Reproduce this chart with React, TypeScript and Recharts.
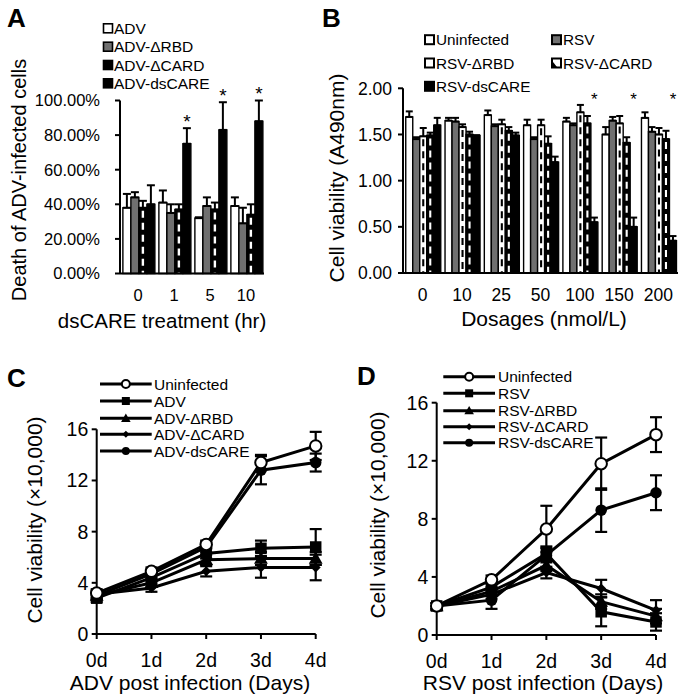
import React from 'react';
import { BarChart, Bar, XAxis, YAxis, ErrorBar, LabelList, LineChart, Line } from 'recharts';

const FONT = '"Liberation Sans", Arial, Helvetica, sans-serif';
const GRAY = '#707070';

// ---------- Panel A ----------
const hoursA = ['0', '1', '5', '10'];
const namesA = ['ADV', 'ADV-\u0394RBD', 'ADV-\u0394CARD', 'ADV-dsCARE'];
const advA = [38, 41, 32, 39];
const advErrA = [8, 7, 0.5, 5];
const rbdA = [44, 35, 39, 29];
const rbdErrA = [3, 5, 5, 9];
const cardA = [38, 37, 37, 34];
const cardErrA = [4, 3, 4, 6];
const dsA = [40, 75, 83, 88];
const dsErrA = [11, 9, 16, 12];
const sigA = [0, 1, 1, 1];
const ticksA = [0, 20, 40, 60, 80, 100];

// ---------- Panel B ----------
const dosesB = ['0', '10', '25', '50', '100', '150', '200'];
const namesB = ['Uninfected', 'RSV', 'RSV-\u0394RBD', 'RSV-\u0394CARD', 'RSV-dsCARE'];
const uninB = [1.69, 1.65, 1.71, 1.6, 1.64, 1.5, 1.68];
const uninErrB = [0.06, 0.03, 0.05, 0.06, 0.04, 0.08, 0.06];
const rsvB = [1.45, 1.64, 1.59, 1.45, 1.6, 1.65, 1.53];
const rsvErrB = [0.02, 0.04, 0.02, 0.02, 0.02, 0.04, 0.05];
const rbdB = [1.48, 1.58, 1.61, 1.6, 1.74, 1.62, 1.5];
const rbdErrB = [0.09, 0.03, 0.05, 0.06, 0.08, 0.08, 0.07];
const cardB = [1.49, 1.5, 1.54, 1.4, 1.62, 1.41, 1.45];
const cardErrB = [0.03, 0.03, 0.04, 0.08, 0.08, 0.06, 0.09];
const dsB = [1.6, 1.49, 1.49, 1.2, 0.55, 0.5, 0.35];
const dsErrB = [0.08, 0, 0.03, 0.06, 0.05, 0.1, 0.05];
const sigB = [0, 0, 0, 0, 1, 1, 1];
const starLevelB = 1.92;
const ticksB = [0, 0.5, 1, 1.5, 2];

// ---------- Panel C ----------
const days = ['0d', '1d', '2d', '3d', '4d'];
const namesC = ['Uninfected', 'ADV', 'ADV-\u0394RBD', 'ADV-\u0394CARD', 'ADV-dsCARE'];
const uninC = [3.2, 4.9, 7.0, 13.4, 14.7];
const uninErrC = [0.3, 0.3, 0.3, 0.6, 1.1];
const advC = [2.8, 4.4, 6.3, 6.7, 6.8];
const advErrC = [0.3, 0.3, 0.4, 0.6, 1.4];
const rbdC = [3.0, 4.0, 5.8, 5.9, 5.9];
const rbdErrC = [0.3, 0.3, 0.4, 0.5, 0.5];
const cardC = [3.1, 3.6, 4.9, 5.2, 5.2];
const cardErrC = [0.3, 0.3, 0.4, 0.8, 1.0];
const dsC = [3.0, 4.7, 6.8, 12.8, 13.4];
const dsErrC = [0.3, 0.3, 0.4, 1.1, 0.7];

// ---------- Panel D ----------
const namesD = ['Uninfected', 'RSV', 'RSV-\u0394RBD', 'RSV-\u0394CARD', 'RSV-dsCARE'];
const uninD = [2.0, 3.8, 7.3, 11.8, 13.8];
const uninErrD = [0.2, 0.3, 1.6, 1.8, 1.2];
const rsvD = [2.0, 3.3, 5.6, 1.6, 0.9];
const rsvErrD = [0.2, 0.4, 0.5, 1.0, 0.6];
const rbdD = [2.0, 3.0, 4.8, 2.3, 1.3];
const rbdErrD = [0.2, 0.3, 0.4, 0.5, 0.5];
const cardD = [2.0, 2.8, 4.3, 3.2, 1.7];
const cardErrD = [0.2, 0.3, 0.4, 0.6, 0.7];
const dsD = [2.0, 2.4, 5.5, 8.6, 9.8];
const dsErrD = [0.2, 0.6, 0.5, 1.5, 1.2];
const ticksLine = [0, 4, 8, 12, 16];

const markerShapes = ['open', 'square', 'triangle', 'diamond', 'circle'];

// ---------- tables ----------
const dataA = hoursA.map((h, i) => ({
  hr: h,
  adv: advA[i], advE: [0, advErrA[i]],
  rbd: rbdA[i], rbdE: [0, rbdErrA[i]],
  card: cardA[i], cardE: [0, cardErrA[i]],
  ds: dsA[i], dsE: [0, dsErrA[i]],
  sig: sigA[i],
}));

const dataB = dosesB.map((d, i) => ({
  dose: d,
  unin: uninB[i], uninE: [0, uninErrB[i]],
  rsv: rsvB[i], rsvE: [0, rsvErrB[i]],
  rbd: rbdB[i], rbdE: [0, rbdErrB[i]],
  card: cardB[i], cardE: [0, cardErrB[i]],
  ds: dsB[i], dsE: [0, dsErrB[i]],
  sig: sigB[i],
}));

const dataC = days.map((d, i) => ({
  day: d,
  s0: uninC[i], e0: uninErrC[i],
  s1: advC[i], e1: advErrC[i],
  s2: rbdC[i], e2: rbdErrC[i],
  s3: cardC[i], e3: cardErrC[i],
  s4: dsC[i], e4: dsErrC[i],
}));

const dataD = days.map((d, i) => ({
  day: d,
  s0: uninD[i], e0: uninErrD[i],
  s1: rsvD[i], e1: rsvErrD[i],
  s2: rbdD[i], e2: rbdErrD[i],
  s3: cardD[i], e3: cardErrD[i],
  s4: dsD[i], e4: dsErrD[i],
}));

// ---------- drawing helpers ----------
function PlainBar(props: any) {
  const { x, y, width, height, fillColor } = props;
  if (width == null || height == null || isNaN(height)) return null;
  return <rect x={x} y={y} width={width} height={height} fill={fillColor} stroke="#000" strokeWidth={1.4} />;
}

function DashBar(props: any) {
  const { x, y, width, height, base, dash } = props;
  if (width == null || height == null || isNaN(height)) return null;
  return (
    <g>
      <rect x={x} y={y} width={width} height={height} fill={base} stroke="#000" strokeWidth={1.4} />
      <line
        x1={x + width / 2}
        x2={x + width / 2}
        y1={y + 3}
        y2={y + height}
        stroke={dash}
        strokeWidth={Math.max(1.6, width * 0.3)}
        strokeDasharray="7 5"
      />
    </g>
  );
}

function Marker({ shape, cx, cy, s }: any) {
  if (cx == null || cy == null) return null;
  switch (shape) {
    case 'open':
      return <circle cx={cx} cy={cy} r={s / 2} fill="#fff" stroke="#000" strokeWidth={2} />;
    case 'circle':
      return <circle cx={cx} cy={cy} r={s / 2} fill="#000" />;
    case 'square':
      return <rect x={cx - s / 2} y={cy - s / 2} width={s} height={s} fill="#000" />;
    case 'triangle':
      return (
        <polygon
          points={`${cx},${cy - s * 0.6} ${cx - s * 0.6},${cy + s * 0.45} ${cx + s * 0.6},${cy + s * 0.45}`}
          fill="#000"
        />
      );
    case 'diamond':
      return (
        <polygon
          points={`${cx},${cy - s / 2} ${cx + s * 0.5},${cy} ${cx},${cy + s / 2} ${cx - s * 0.5},${cy}`}
          fill="#000"
        />
      );
    default:
      return null;
  }
}

const axisLine = { stroke: '#000', strokeWidth: 2 };
const tickLine = { stroke: '#000', strokeWidth: 2 };

function starContentA(p: any) {
  const vb = p.viewBox || p;
  const { x, y, width, height } = vb;
  const i = p.index;
  if (i == null || !sigA[i]) return null;
  const ppu = height / dsA[i];
  const errTop = y - dsErrA[i] * ppu;
  const cy = errTop - 11;
  return (
    <text key={`sa${i}`} x={x + width / 2} y={cy + 0.57 * 19} textAnchor="middle" fontSize={19} fontFamily={FONT} fill="#000">
      *
    </text>
  );
}

function starContentB(p: any) {
  const vb = p.viewBox || p;
  const { x, y, width, height } = vb;
  const i = p.index;
  if (i == null || !sigB[i]) return null;
  const ppu = height / dsB[i];
  const cy = y + height - starLevelB * ppu;
  return (
    <text key={`sb${i}`} x={x + width / 2} y={cy + 0.57 * 17} textAnchor="middle" fontSize={17} fontFamily={FONT} fill="#000">
      *
    </text>
  );
}

function PanelA() {
  return (
    <BarChart
      width={342}
      height={340}
      data={dataA}
      margin={{ top: 100.5, right: 78, bottom: 64.5, left: 0 }}
      barCategoryGap="8%"
      barGap={0}
    >
      <XAxis
        xAxisId="edge"
        type="number"
        domain={[0, 4]}
        ticks={[0, 1, 2, 3, 4]}
        allowDataOverflow
        height={1}
        axisLine={false}
        tick={false}
        tickLine={tickLine}
        tickSize={5}
      />
      <XAxis
        xAxisId="cat"
        dataKey="hr"
        height={1}
        axisLine={axisLine}
        tickLine={false}
        tickSize={5}
        tickMargin={10.5}
        interval={0}
        tick={{ fill: '#000', fontSize: 16.5, fontFamily: FONT }}
      />
      <YAxis
        width={120}
        domain={[0, 100]}
        ticks={ticksA}
        tickFormatter={(v: number) => v.toFixed(2) + '%'}
        axisLine={axisLine}
        tickLine={tickLine}
        tickSize={5}
        tickMargin={15}
        tick={{ fill: '#000', fontSize: 16.5, fontFamily: FONT }}
      />
      <Bar xAxisId="cat" dataKey="adv" isAnimationActive={false} shape={(p: any) => <PlainBar {...p} fillColor="#fff" />}>
        <ErrorBar dataKey="advE" width={4} strokeWidth={2} stroke="#000" direction="y" />
      </Bar>
      <Bar xAxisId="cat" dataKey="rbd" isAnimationActive={false} shape={(p: any) => <PlainBar {...p} fillColor={GRAY} />}>
        <ErrorBar dataKey="rbdE" width={4} strokeWidth={2} stroke="#000" direction="y" />
      </Bar>
      <Bar xAxisId="cat" dataKey="card" isAnimationActive={false} shape={(p: any) => <DashBar {...p} base="#000" dash="#fff" />}>
        <ErrorBar dataKey="cardE" width={4} strokeWidth={2} stroke="#000" direction="y" />
      </Bar>
      <Bar xAxisId="cat" dataKey="ds" isAnimationActive={false} shape={(p: any) => <PlainBar {...p} fillColor="#000" />}>
        <ErrorBar dataKey="dsE" width={4} strokeWidth={2} stroke="#000" direction="y" />
        <LabelList dataKey="sig" content={starContentA} />
      </Bar>
    </BarChart>
  );
}

function PanelB() {
  return (
    <BarChart
      width={345}
      height={340}
      data={dataB}
      margin={{ top: 88.3, right: 7, bottom: 65, left: 0 }}
      barCategoryGap="7%"
      barGap={0}
    >
      <XAxis
        xAxisId="edge"
        type="number"
        domain={[0, 7]}
        ticks={[0, 1, 2, 3, 4, 5, 6, 7]}
        allowDataOverflow
        height={1}
        axisLine={false}
        tick={false}
        tickLine={tickLine}
        tickSize={5}
      />
      <XAxis
        xAxisId="cat"
        dataKey="dose"
        height={1}
        axisLine={axisLine}
        tickLine={false}
        tickSize={5}
        tickMargin={10.8}
        interval={0}
        tick={{ fill: '#000', fontSize: 17.5, fontFamily: FONT }}
      />
      <YAxis
        width={63}
        domain={[0, 2]}
        ticks={ticksB}
        tickFormatter={(v: number) => v.toFixed(2)}
        axisLine={axisLine}
        tickLine={tickLine}
        tickSize={5}
        tickMargin={6}
        tick={{ fill: '#000', fontSize: 17.5, fontFamily: FONT }}
      />
      <Bar xAxisId="cat" dataKey="unin" isAnimationActive={false} shape={(p: any) => <PlainBar {...p} fillColor="#fff" />}>
        <ErrorBar dataKey="uninE" width={3.5} strokeWidth={2} stroke="#000" direction="y" />
      </Bar>
      <Bar xAxisId="cat" dataKey="rsv" isAnimationActive={false} shape={(p: any) => <PlainBar {...p} fillColor={GRAY} />}>
        <ErrorBar dataKey="rsvE" width={3.5} strokeWidth={2} stroke="#000" direction="y" />
      </Bar>
      <Bar xAxisId="cat" dataKey="rbd" isAnimationActive={false} shape={(p: any) => <DashBar {...p} base="#fff" dash="#000" />}>
        <ErrorBar dataKey="rbdE" width={3.5} strokeWidth={2} stroke="#000" direction="y" />
      </Bar>
      <Bar xAxisId="cat" dataKey="card" isAnimationActive={false} shape={(p: any) => <DashBar {...p} base="#000" dash="#fff" />}>
        <ErrorBar dataKey="cardE" width={3.5} strokeWidth={2} stroke="#000" direction="y" />
      </Bar>
      <Bar xAxisId="cat" dataKey="ds" isAnimationActive={false} shape={(p: any) => <PlainBar {...p} fillColor="#000" />}>
        <ErrorBar dataKey="dsE" width={3.5} strokeWidth={2} stroke="#000" direction="y" />
        <LabelList dataKey="sig" content={starContentB} />
      </Bar>
    </BarChart>
  );
}

const seriesOrder = [1, 2, 3, 4, 0];

function LinePanel({ data, width, margin }: any) {
  return (
    <LineChart width={width} height={358} data={data} margin={margin}>
      <XAxis
        dataKey="day"
        height={1}
        axisLine={axisLine}
        tickLine={tickLine}
        tickSize={5}
        tickMargin={14}
        interval={0}
        tick={{ fill: '#000', fontSize: 19.5, fontFamily: FONT }}
      />
      <YAxis
        width={96.7}
        domain={[0, 16]}
        ticks={ticksLine}
        axisLine={axisLine}
        tickLine={tickLine}
        tickSize={5}
        tickMargin={3.4}
        tick={{ fill: '#000', fontSize: 19.5, fontFamily: FONT }}
      />
      {seriesOrder.map((k) => (
        <Line
          key={k}
          dataKey={`s${k}`}
          stroke="#000"
          strokeWidth={3}
          isAnimationActive={false}
          dot={(p: any) => <Marker key={`m${k}-${p.index}`} shape={markerShapes[k]} cx={p.cx} cy={p.cy} s={k === 3 ? 10 : 11.5} />}
          activeDot={false}
        >
          <ErrorBar dataKey={`e${k}`} width={6} strokeWidth={2.2} stroke="#000" direction="y" />
        </Line>
      ))}
    </LineChart>
  );
}

function LineLegend({ names, rows, x1, x2, tx }: any) {
  const mx = (x1 + x2) / 2;
  return (
    <g>
      {names.map((n: string, i: number) => (
        <g key={n}>
          <line x1={x1} x2={x2} y1={rows[i]} y2={rows[i]} stroke="#000" strokeWidth={3} />
          <Marker shape={markerShapes[i]} cx={mx} cy={rows[i]} s={i === 3 ? 7 : 8} />
          <text x={tx} y={rows[i]} dominantBaseline="central" fontSize={15.5} fontFamily={FONT} fill="#000">
            {n}
          </text>
        </g>
      ))}
    </g>
  );
}

function RotLabel({ x, y, text, size }: any) {
  return (
    <text
      x={x}
      y={y}
      transform={`rotate(-90 ${x} ${y})`}
      textAnchor="middle"
      dominantBaseline="central"
      fontSize={size}
      fontFamily={FONT}
      fill="#000"
    >
      {text}
    </text>
  );
}

function HLabel({ x, y, text, size }: any) {
  return (
    <text x={x} y={y} textAnchor="middle" dominantBaseline="central" fontSize={size} fontFamily={FONT} fill="#000">
      {text}
    </text>
  );
}

function Overlay() {
  const rowsA = [28.3, 46.7, 65, 83.3];
  const swA = ['#fff', GRAY, '#000', '#000'];
  const rowsB = [39.7, 63, 86.3];
  const posB = [
    [425, 0], [552, 0], [425, 1], [552, 1], [425, 2],
  ];
  return (
    <svg
      width={685}
      height={698}
      style={{ position: 'absolute', left: 0, top: 0, pointerEvents: 'none' }}
    >
      {/* panel letters */}
      <text x={7} y={27} fontSize={26} fontWeight="bold" fontFamily={FONT}>A</text>
      <text x={322} y={27} fontSize={26} fontWeight="bold" fontFamily={FONT}>B</text>
      <text x={7} y={387} fontSize={26} fontWeight="bold" fontFamily={FONT}>C</text>
      <text x={357} y={385} fontSize={26} fontWeight="bold" fontFamily={FONT}>D</text>

      {/* axis titles */}
      <RotLabel x={19} y={180} text="Death of ADV-infected cells" size={20} />
      <HLabel x={162} y={320} text="dsCARE treatment (hr)" size={20.5} />
      <RotLabel x={336} y={178} text="Cell viability (A490nm)" size={21} />
      <HLabel x={544} y={318} text="Dosages (nmol/L)" size={21} />
      <RotLabel x={34} y={520} text={'Cell viability (\u00D710,000)'} size={21} />
      <HLabel x={190} y={682} text="ADV post infection (Days)" size={21} />
      <RotLabel x={377} y={515} text={'Cell viability (\u00D710,000)'} size={21} />
      <HLabel x={543} y={682} text="RSV post infection (Days)" size={21} />

      {/* legend A */}
      {namesA.map((n, i) => (
        <g key={n}>
          <rect x={103.5} y={rowsA[i] - 4.5} width={9} height={9} fill={swA[i]} stroke="#000" strokeWidth={1.6} />
          <text x={114} y={rowsA[i]} dominantBaseline="central" fontSize={15.5} fontFamily={FONT} fill="#000">{n}</text>
        </g>
      ))}

      {/* legend B */}
      {namesB.map((n, i) => {
        const [sx, r] = posB[i];
        const cy = rowsB[r];
        const fills = ['#fff', GRAY, '#fff', '#fff', '#000'];
        return (
          <g key={n}>
            <rect x={sx} y={cy - 4.5} width={9} height={9} fill={fills[i]} stroke="#000" strokeWidth={2} />
            {i === 3 ? (
              <polygon points={`${sx + 1},${cy - 1} ${sx + 1},${cy + 4} ${sx + 5},${cy + 4}`} fill="#000" />
            ) : null}
            <text x={sx + 11} y={cy} dominantBaseline="central" fontSize={15.3} fontFamily={FONT} fill="#000">{n}</text>
          </g>
        );
      })}

      {/* legend C */}
      <LineLegend names={namesC} rows={[384, 401, 418.3, 434.3, 451]} x1={100} x2={151.7} tx={154} />
      {/* legend D */}
      <LineLegend names={namesD} rows={[376.7, 393.3, 410.7, 426.7, 442.7]} x1={443.3} x2={495} tx={498} />
    </svg>
  );
}

export default function App() {
  return (
    <div
      style={{
        position: 'absolute',
        left: 0,
        top: 0,
        width: 685,
        height: 698,
        background: '#fff',
        overflow: 'hidden',
        fontFamily: FONT,
      }}
    >
      <div style={{ position: 'absolute', left: 0, top: 0 }}>
        <PanelA />
      </div>
      <div style={{ position: 'absolute', left: 340, top: 0 }}>
        <PanelB />
      </div>
      <div style={{ position: 'absolute', left: 0, top: 340 }}>
        <LinePanel data={dataC} width={342} margin={{ top: 89.3, right: 26.3, bottom: 63, left: 0 }} />
      </div>
      <div style={{ position: 'absolute', left: 340, top: 340 }}>
        <LinePanel data={dataD} width={345} margin={{ top: 62.7, right: 29, bottom: 62, left: 0 }} />
      </div>
      <Overlay />
    </div>
  );
}
